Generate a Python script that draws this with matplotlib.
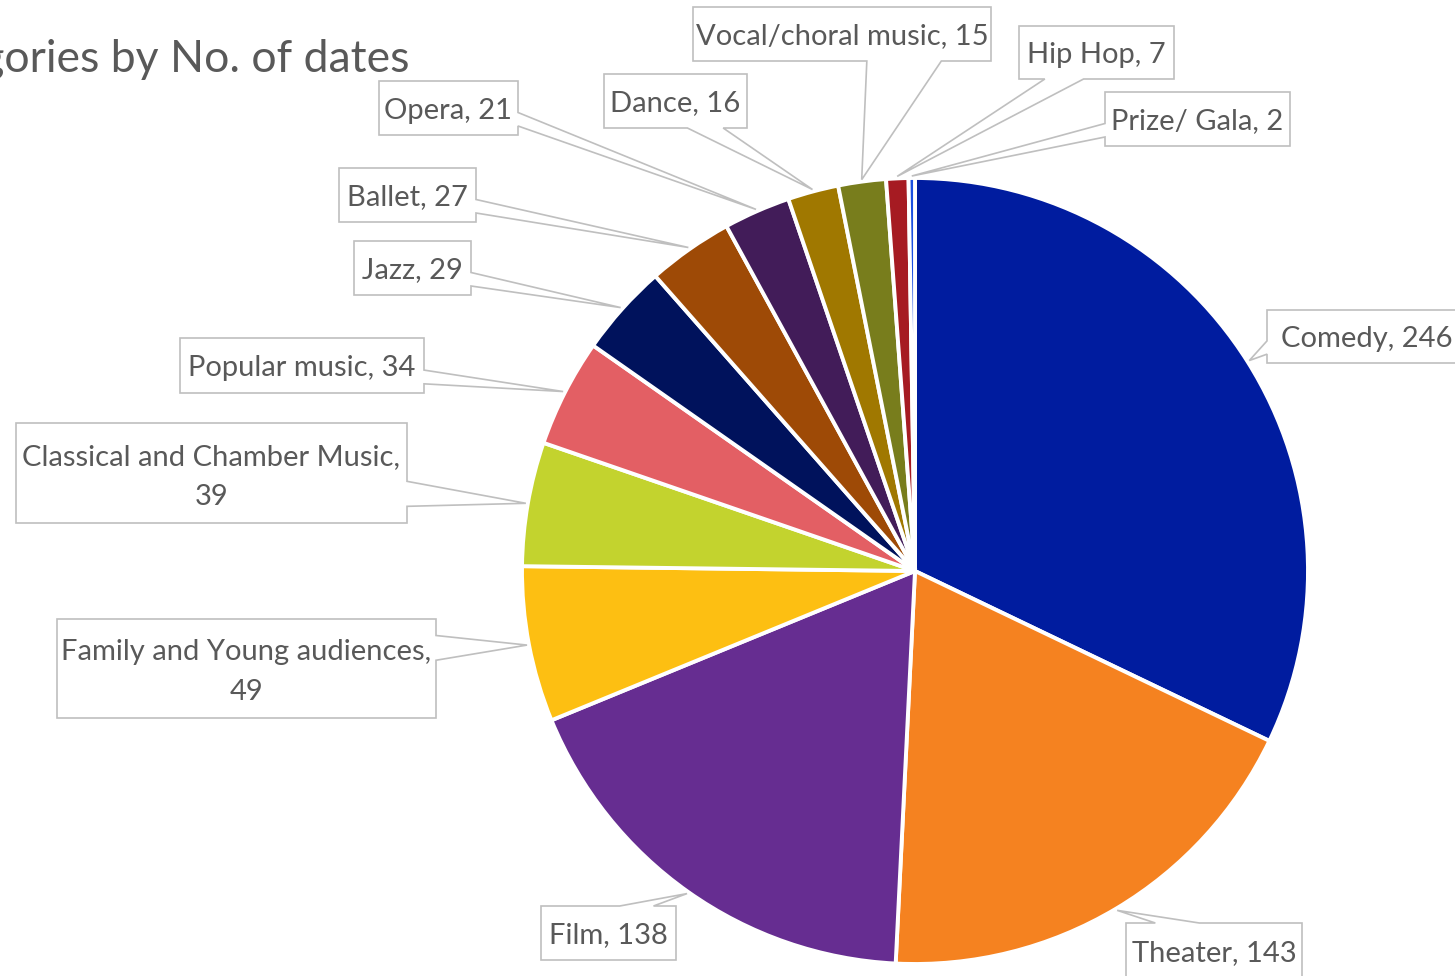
import numpy as np
import matplotlib
matplotlib.use("Agg")
import matplotlib.pyplot as plt
from matplotlib.patches import Polygon

# Data
categories = ["Comedy", "Theater", "Film", "Family and Young audiences",
              "Classical and Chamber Music", "Popular music", "Jazz", "Ballet",
              "Opera", "Dance", "Vocal/choral music", "Hip Hop", "Prize/ Gala"]
dates = [246, 143, 138, 49, 39, 34, 29, 27, 21, 16, 15, 7, 2]
colors = ["#001C9F", "#F58220", "#662D91", "#FDBF12", "#C3D32E", "#E35F64",
          "#00125C", "#9E4A06", "#421C59", "#A07800", "#787D1C", "#A61B22",
          "#1A4FE0"]
label_texts = ["Comedy, 246", "Theater, 143", "Film, 138",
               "Family and Young audiences,\n49", "Classical and Chamber Music,\n39",
               "Popular music, 34", "Jazz, 29", "Ballet, 27", "Opera, 21",
               "Dance, 16", "Vocal/choral music, 15", "Hip Hop, 7", "Prize/ Gala, 2"]

# Label box layout (pixels, origin top-left): x0, y0, x1, y1
boxes = [(1267, 310, 1467, 363), (1126, 923, 1302, 978), (541, 906, 676, 960),
         (57, 619, 436, 718), (16, 423, 407, 523), (180, 338, 424, 393),
         (354, 241, 471, 295), (339, 168, 476, 222), (379, 81, 518, 135),
         (604, 74, 747, 128), (693, 7, 991, 61), (1019, 26, 1174, 79),
         (1105, 92, 1290, 146)]

W, H = 1455, 976
cx, cy, R = 915, 571, 393
text_col = "#595959"
line_col = "#BFBFBF"
plt.rcParams['font.family'] = ['Lato', 'DejaVu Sans']

fig = plt.figure(figsize=(W / 100, H / 100), dpi=100)
ax = fig.add_axes([0, 0, 1, 1])

# y axis runs downwards, so counterclock in data = clockwise on screen
wedges, _ = ax.pie(dates, colors=colors, startangle=-90, counterclock=True,
                   center=(cx, cy), radius=R,
                   wedgeprops=dict(edgecolor="white", linewidth=2.8))
ax.set_xlim(0, W)
ax.set_ylim(H, 0)
ax.set_aspect('equal')
ax.axis('off')


def callout(box, tip):
    # rectangle with a wedge pointer, like a spreadsheet data callout
    x0, y0, x1, y1 = box
    w, h = x1 - x0, y1 - y0
    hc, vc = (x0 + x1) / 2, (y0 + y1) / 2
    dx, dy = tip[0] - hc, tip[1] - vc
    dz = abs(dy) - abs(dx * h / w)
    g = (7, 10) if dx > 0 else (2, 5)
    bx1, bx2 = x0 + w * g[0] / 12, x0 + w * g[1] / 12
    g = (7, 10) if dy > 0 else (2, 5)
    by1, by2 = y0 + h * g[0] / 12, y0 + h * g[1] / 12
    if dz > 0 and dy < 0:
        pts = [(x0, y0), (bx1, y0), tip, (bx2, y0), (x1, y0), (x1, y1), (x0, y1)]
    elif dz > 0:
        pts = [(x0, y0), (x1, y0), (x1, y1), (bx2, y1), tip, (bx1, y1), (x0, y1)]
    elif dx > 0:
        pts = [(x0, y0), (x1, y0), (x1, by1), tip, (x1, by2), (x1, y1), (x0, y1)]
    else:
        pts = [(x0, y0), (x1, y0), (x1, y1), (x0, y1), (x0, by2), tip, (x0, by1)]
    return Polygon(pts, closed=True, facecolor="white", edgecolor=line_col,
                   linewidth=1.2, zorder=3)


total = sum(dates)
cum = np.cumsum([0] + dates)
for i, txt in enumerate(label_texts):
    mid = -90 + (cum[i] + dates[i] / 2) / total * 360
    tip = (cx + (R + 2) * np.cos(np.radians(mid)),
           cy + (R + 2) * np.sin(np.radians(mid)))
    box = boxes[i]
    ax.add_patch(callout(box, tip))
    nlines = txt.count("\n") + 1
    # baseline of the last line
    yb = (box[1] + box[3]) / 2 + 10.5 + (nlines - 1) * 21.5
    ax.text((box[0] + box[2]) / 2, yb, txt, ha='center', va='baseline',
            multialignment='center', fontsize=21, color=text_col,
            linespacing=1.68, zorder=4)

ax.text(410, 72, "Event categories by No. of dates", ha='right', va='baseline',
        fontsize=32, color=text_col)

fig.savefig("out.png", dpi=100)
